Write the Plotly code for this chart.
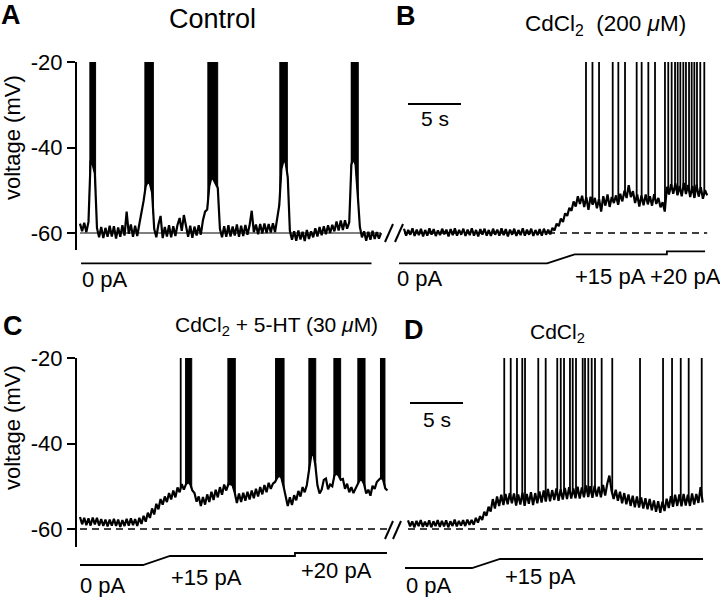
import numpy as np
import plotly.graph_objects as go

# ------------------------------------------------------------------ data
SAMPLE_INTERVAL_S = 0.2          # voltage samples below are every 0.2 s
REST_MV = -60
SPIKE_PEAK_MV = 10               # spike peaks (clipped at -20 mV on the plot)
SCALE_BAR_S = 5
Y_TICKS = [-60, -40, -20]
Y_TICK_TEXT = ["-60", "-40", "-20"]

# Panel A : Control
VM_A = [-57.8, -59.6, -57.6, -59.8, -57.4, -43.0, -44.0, -46.0, -58.8, -61.0,
        -58.6, -61.2, -58.8, -60.9, -58.3, -60.8, -58.4, -61.3, -58.7, -60.9,
        -58.2, -60.6, -55.0, -60.2, -58.0, -60.9, -58.3, -60.7, -57.9, -55.5,
        -52.5, -49.0, -48.0, -48.5, -50.5, -59.0, -61.0, -58.0, -56.0, -61.2,
        -58.6, -60.8, -58.2, -61.0, -58.4, -60.7, -58.1, -56.5, -59.5, -55.8,
        -58.0, -60.9, -58.3, -61.1, -58.5, -60.6, -58.2, -60.4, -57.0, -55.0,
        -54.5, -49.0, -47.0, -47.5, -48.5, -49.5, -59.0, -61.0, -58.4, -60.9,
        -58.2, -60.8, -58.5, -60.6, -58.0, -60.9, -58.3, -60.7, -58.1, -60.4,
        -58.2, -54.8, -59.8, -58.0, -60.3, -57.9, -60.1, -57.8, -60.0, -57.9,
        -59.9, -57.7, -59.8, -56.5, -53.5, -45.0, -43.0, -43.5, -47.0, -59.5,
        -61.6, -59.6, -61.8, -59.4, -61.5, -59.7, -61.9, -59.3, -61.4, -59.6,
        -61.0, -58.9, -60.8, -58.6, -60.5, -58.4, -60.3, -58.2, -60.0, -58.1,
        -59.6, -57.3, -59.4, -57.1, -59.3, -57.0, -59.0, -57.5, -44.0, -42.5,
        -44.0, -51.0, -58.5, -61.0, -59.6, -61.8, -59.7, -61.6, -59.5, -61.4,
        -59.8, -61.3, -60.0]
BURSTS_A = [[0.88, 1.47], [6.07, 6.92], [12.01, 12.99], [18.80, 19.56], [25.54, 26.25]]
SPIKES_A = []
CMD_T_A = [0.1, 27.5]
CMD_PA_A = [0, 0]

# Panel B : CdCl2 (200 uM)
VM_B = [-59.0, -60.6, -59.3, -60.4, -58.9, -60.7, -59.2, -60.5, -59.0, -60.8,
        -59.3, -60.6, -58.9, -60.4, -59.1, -60.7, -59.4, -60.5, -59.0, -60.3,
        -59.2, -60.8, -59.1, -60.5, -58.9, -60.6, -59.3, -60.4, -59.0, -60.7,
        -59.2, -60.5, -58.9, -60.6, -59.3, -60.8, -59.1, -60.4, -59.0, -60.6,
        -59.3, -60.7, -59.0, -60.4, -59.2, -60.6, -58.9, -60.5, -59.1, -60.8,
        -59.2, -60.4, -59.0, -60.7, -59.3, -60.5, -58.9, -60.6, -59.2, -60.4,
        -59.0, -60.7, -59.3, -60.5, -59.1, -60.6, -59.0, -60.4, -59.2, -60.3,
        -58.8, -59.4, -57.8, -58.4, -56.6, -57.4, -55.4, -56.0, -54.1, -54.8,
        -52.6, -53.8, -51.4, -53.2, -51.3, -53.9, -51.6, -54.6, -51.5, -53.4,
        -51.8, -54.2, -52.0, -55.0, -51.4, -53.6, -51.0, -53.9, -51.6, -53.0,
        -51.2, -53.4, -50.8, -52.6, -50.1, -51.8, -48.8, -51.6, -50.2, -53.0,
        -51.0, -53.8, -51.2, -53.5, -51.0, -53.3, -51.4, -53.6, -50.9, -53.2,
        -51.8, -54.0, -52.8, -55.0, -49.2, -51.0, -48.6, -50.8, -48.4, -51.2,
        -49.0, -51.4, -48.3, -50.9, -48.8, -51.6, -49.0, -51.8, -48.7, -51.5,
        -49.3, -52.0, -50.0, -51.2]
BURSTS_B = []
SPIKES_B = [17.17, 17.78, 18.40, 19.69, 20.22, 20.85, 21.95, 22.42, 23.05, 23.68,
            24.62, 24.93, 25.25, 25.57, 25.82, 26.07, 26.35, 26.60, 26.89, 27.14,
            27.39, 27.64, 27.95, 28.33]
CMD_T_B = [-0.47, 13.5, 16.1, 24.8, 24.8, 28.4]
CMD_PA_B = [0, 0, 15, 15, 20, 20]

# Panel C : CdCl2 + 5-HT (30 uM)
VM_C = [-57.2, -58.9, -57.4, -59.1, -57.5, -59.2, -57.3, -58.9, -57.4, -59.2,
        -57.7, -59.3, -57.8, -59.4, -57.8, -59.2, -57.6, -59.3, -57.8, -59.5,
        -57.9, -59.3, -57.6, -59.2, -57.5, -59.1, -57.7, -59.3, -57.4, -58.8,
        -56.9, -58.3, -56.2, -57.4, -55.2, -56.6, -54.1, -55.4, -53.0, -54.3,
        -52.4, -53.7, -51.6, -53.1, -51.0, -52.6, -50.3, -51.4, -49.5, -50.8,
        -49.5, -49.0, -49.5, -51.0, -51.6, -53.6, -52.4, -54.6, -52.5, -54.3,
        -51.9, -53.7, -51.3, -53.2, -50.8, -52.6, -50.2, -52.0, -49.6, -51.0,
        -49.5, -49.5, -49.8, -51.5, -53.9, -51.7, -53.7, -51.5, -53.4, -51.3,
        -53.1, -51.0, -52.8, -50.6, -52.4, -50.2, -51.9, -49.7, -51.4, -49.2,
        -50.6, -49.4, -49.0, -48.0, -47.5, -48.0, -50.0, -52.0, -54.6, -52.6,
        -54.4, -52.1, -53.3, -51.1, -52.4, -50.2, -51.4, -49.7, -46.0, -43.0,
        -42.0, -45.0, -49.8, -51.7, -50.8, -48.5, -48.2, -50.7, -49.6, -50.0,
        -47.5, -47.0, -47.5, -48.5, -48.3, -50.6, -49.4, -51.4, -50.2, -51.6,
        -50.5, -49.5, -48.5, -48.5, -49.5, -51.7, -50.8, -52.2, -49.9, -50.6,
        -49.0, -48.5, -48.0, -48.5, -50.5, -51.0]
BURSTS_C = [[9.91, 10.54], [13.90, 14.65], [18.40, 19.25], [21.54, 22.24],
            [23.90, 24.59], [26.16, 26.89], [28.30, 28.77]]
SPIKES_C = [9.50]
CMD_T_C = [0.0, 5.94, 8.49, 20.28, 20.28, 28.96]
CMD_PA_C = [0, 0, 15, 15, 20, 20]

# Panel D : CdCl2
VM_D = [-58.0, -59.4, -58.2, -59.6, -58.1, -59.3, -57.9, -59.5, -58.3, -59.4,
        -58.0, -59.6, -58.2, -59.3, -57.9, -59.5, -58.1, -59.4, -58.0, -59.6,
        -58.2, -59.3, -57.8, -59.4, -58.1, -59.2, -57.9, -59.3, -57.8, -59.0,
        -57.9, -59.0, -57.4, -58.5, -57.0, -57.9, -56.0, -56.9, -54.8, -55.9,
        -53.0, -55.2, -52.4, -54.6, -52.0, -54.4, -51.8, -54.2, -51.6, -54.0,
        -51.7, -54.5, -51.9, -54.3, -51.5, -54.6, -51.8, -54.1, -51.4, -54.4,
        -51.6, -54.0, -51.2, -53.8, -51.0, -53.6, -50.6, -53.5, -50.9, -53.2,
        -50.5, -53.4, -50.7, -53.1, -50.4, -53.0, -50.2, -52.9, -50.5, -52.8,
        -50.1, -52.9, -50.3, -52.6, -49.8, -52.5, -50.0, -52.7, -49.9, -52.4,
        -50.1, -52.6, -49.7, -52.2, -49.4, -47.5, -51.0, -53.0, -50.8, -53.4,
        -51.3, -54.0, -51.6, -54.2, -51.9, -54.6, -52.2, -54.9, -52.4, -55.0,
        -52.6, -55.2, -52.8, -55.4, -53.0, -55.6, -53.3, -56.0, -53.5, -56.2,
        -53.6, -55.8, -52.9, -55.1, -52.3, -54.8, -52.0, -54.6, -51.9, -54.7,
        -51.8, -54.5, -52.0, -54.6, -51.7, -54.3, -51.8, -53.9, -50.2, -53.8]
BURSTS_D = []
SPIKES_D = [9.08, 9.69, 10.28, 10.78, 11.04, 12.29, 12.99, 14.08, 14.41, 14.72,
            15.28, 15.54, 15.85, 16.48, 16.70, 17.01, 17.33, 17.64, 18.27, 19.27,
            21.89, 24.06, 24.91, 25.73, 26.48, 27.71]
CMD_T_D = [-0.28, 6.04, 8.68, 27.83]
CMD_PA_D = [0, 0, 15, 15]

# ------------------------------------------------------------------ layout geometry
W, H = 720, 597
PX_PER_S = 10.6
PX_PER_MV = 4.275
PX_PER_PA = 0.6
FONT = "Liberation Sans, Arial, Helvetica, sans-serif"
INK = "black"


def fx(px):
    return px / W


def fy(py):
    return 1 - py / H


fig = go.Figure()
layout_axes = {}
annotations = []
shapes = []


def names(n):
    s = "" if n == 1 else str(n)
    return "x" + s, "y" + s, "xaxis" + s, "yaxis" + s


def panel(nv, nc, geom, vm, bursts, spikes, cmd_t, cmd_pa, dashed, show_y):
    xv, yv, xav, yav = names(nv)
    xc, yc, xac, yac = names(nc)
    xr = [(geom["dom"][0] - geom["t0px"]) / PX_PER_S,
          (geom["dom"][1] - geom["t0px"]) / PX_PER_S]
    vtop_mv = max(Y_TICKS)
    vr = [vtop_mv - (geom["vbot"] - geom["vtop"]) / PX_PER_MV, vtop_mv]
    xdom = [fx(geom["dom"][0]), fx(geom["dom"][1])]
    common_x = dict(domain=xdom, range=xr, visible=False, fixedrange=True, automargin=False)
    layout_axes[xav] = dict(common_x, anchor=yv)
    layout_axes[xac] = dict(common_x, anchor=yc)
    yax = dict(domain=[fy(geom["vbot"]), fy(geom["vtop"])], range=vr, anchor=xv,
               showgrid=False, zeroline=False, fixedrange=True, automargin=False)
    if show_y:
        yax.update(visible=True, showline=True, linewidth=2, linecolor=INK,
                   ticks="outside", ticklen=8, tickwidth=2, tickcolor=INK,
                   tickvals=Y_TICKS, ticktext=Y_TICK_TEXT,
                   tickfont=dict(family=FONT, size=22, color=INK))
    else:
        yax.update(visible=False)
    layout_axes[yav] = yax
    cz = geom["czero"]
    layout_axes[yac] = dict(domain=[fy(cz + 5 * PX_PER_PA), fy(cz - 25 * PX_PER_PA)],
                            range=[-5, 25], anchor=xc, visible=False, fixedrange=True,
                            automargin=False)

    t = np.arange(len(vm)) * SAMPLE_INTERVAL_S
    v = np.asarray(vm, dtype=float)

    # resting level line
    fig.add_trace(go.Scatter(
        x=[t[0], t[-1]], y=[REST_MV, REST_MV], mode="lines", xaxis=xv, yaxis=yv,
        line=dict(color=INK, width=1.6 if dashed else 1.2, dash="7px,5px" if dashed else "solid"),
        hoverinfo="skip"))
    # bursts of spikes (solid black columns)
    for s, e in bursts:
        inside = (t > s) & (t < e)
        bx = [s] + list(t[inside]) + [e, e, s]
        by = [np.interp(s, t, v)] + list(v[inside]) + [np.interp(e, t, v), SPIKE_PEAK_MV, SPIKE_PEAK_MV]
        fig.add_trace(go.Scatter(x=bx, y=by, mode="lines", fill="toself", fillcolor=INK,
                                 line=dict(color=INK, width=1), xaxis=xv, yaxis=yv,
                                 hoverinfo="skip"))
    # single spikes
    if spikes:
        sx, sy = [], []
        for ts in spikes:
            sx += [ts, ts, None]
            sy += [np.interp(ts, t, v), SPIKE_PEAK_MV, None]
        fig.add_trace(go.Scatter(x=sx, y=sy, mode="lines", line=dict(color=INK, width=1.8),
                                 xaxis=xv, yaxis=yv, hoverinfo="skip"))
    # membrane voltage
    fig.add_trace(go.Scatter(x=t, y=v, mode="lines", line=dict(color=INK, width=2.2),
                             xaxis=xv, yaxis=yv, hoverinfo="skip"))
    # command current
    fig.add_trace(go.Scatter(x=cmd_t, y=cmd_pa, mode="lines", line=dict(color=INK, width=1.8),
                             xaxis=xc, yaxis=yc, hoverinfo="skip"))


GEOM_A = dict(t0px=80, dom=(77, 392), vtop=62, vbot=250, czero=263.3)
GEOM_B = dict(t0px=404, dom=(383, 712), vtop=62, vbot=250, czero=263.3)
GEOM_C = dict(t0px=80, dom=(77, 392), vtop=358, vbot=547, czero=565)
GEOM_D = dict(t0px=408, dom=(383, 712), vtop=358, vbot=547, czero=568)

panel(1, 2, GEOM_A, VM_A, BURSTS_A, SPIKES_A, CMD_T_A, CMD_PA_A, False, True)
panel(3, 4, GEOM_B, VM_B, BURSTS_B, SPIKES_B, CMD_T_B, CMD_PA_B, True, False)
panel(5, 6, GEOM_C, VM_C, BURSTS_C, SPIKES_C, CMD_T_C, CMD_PA_C, True, True)
panel(7, 8, GEOM_D, VM_D, BURSTS_D, SPIKES_D, CMD_T_D, CMD_PA_D, True, False)

# time scale bars (B and D)
for (xa, ya, geom, bx0, by0) in [("x3", "y3", GEOM_B, 408, 104), ("x7", "y7", GEOM_D, 410, 403)]:
    t_start = (bx0 - geom["t0px"]) / PX_PER_S
    v_at = max(Y_TICKS) - (by0 - geom["vtop"]) / PX_PER_MV
    fig.add_trace(go.Scatter(x=[t_start, t_start + SCALE_BAR_S], y=[v_at, v_at], mode="lines",
                             line=dict(color=INK, width=2), xaxis=xa, yaxis=ya,
                             hoverinfo="skip"))


def label(text, px, py, size=22, xanchor="center", yanchor="middle", angle=0):
    annotations.append(dict(text=text, x=fx(px), y=fy(py), xref="paper", yref="paper",
                            xanchor=xanchor, yanchor=yanchor, showarrow=False,
                            textangle=angle, font=dict(family=FONT, size=size, color=INK)))


label("<b>A</b>", 11, 15, size=27)
label("Control", 212, 19, size=27)
label("<b>B</b>", 406, 16, size=27)
label("CdCl<sub>2</sub>\u00a0 (200 <i>\u03bc</i>M)", 523, 25, size=22.5, xanchor="left")
label("<b>C</b>", 13, 326, size=27)
label("CdCl<sub>2</sub> + 5-HT (30 <i>\u03bc</i>M)", 173, 326, size=21, xanchor="left")
label("<b>D</b>", 414, 330, size=27)
label("CdCl<sub>2</sub>", 528, 333, size=21, xanchor="left")
label("voltage (mV)", 12, 138, size=22, angle=-90)
label("voltage (mV)", 12, 428, size=22, angle=-90)
label("5 s", 435, 118, size=21)
label("5 s", 437, 419, size=21)
label("0 pA", 105, 279)
label("0 pA", 419.5, 278)
label("+15 pA", 610.5, 276)
label("+20 pA", 685, 276)
label("0 pA", 103.5, 585)
label("+15 pA", 206.5, 577)
label("+20 pA", 336.5, 570)
label("0 pA", 428.5, 585)
label("+15 pA", 540, 576)

# axis-break marks "//"
for (x1, y1, x2, y2) in [(385, 242, 393, 224), (395, 242, 403, 224),
                         (385, 539, 393, 521), (393, 539, 401, 521)]:
    shapes.append(dict(type="line", xref="paper", yref="paper",
                       x0=fx(x1), y0=fy(y1), x1=fx(x2), y1=fy(y2),
                       line=dict(color=INK, width=2)))

fig.update_layout(template="none", width=W, height=H, autosize=False,
                  margin=dict(l=0, r=0, t=0, b=0, pad=0, autoexpand=False),
                  paper_bgcolor="white", plot_bgcolor="rgba(0,0,0,0)",
                  showlegend=False, hovermode=False,
                  annotations=annotations, shapes=shapes, **layout_axes)

fig.write_html("out.html", config={"displayModeBar": False},
               post_script="document.body.style.margin='0';document.body.style.overflow='hidden';")
